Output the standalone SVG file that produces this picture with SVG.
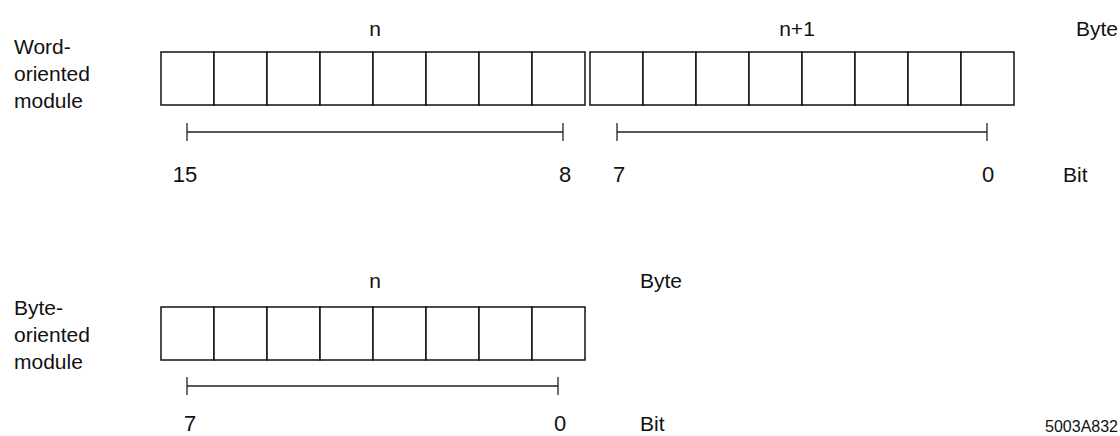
<svg xmlns="http://www.w3.org/2000/svg" width="1120" height="436" viewBox="0 0 1120 436">
<style>
text{font-family:"Liberation Sans",Arial,sans-serif;font-size:21px;fill:#111}
.c{text-anchor:middle}
.e{text-anchor:end}
.d{font-size:22px}
.cell{fill:#fff;stroke:#111;stroke-width:1.5}
.ln{stroke:#222;stroke-width:1.3;fill:none}
</style>
<defs>
<g id="byte8">
<rect class="cell" x="0" y="0" width="53" height="53"/>
<rect class="cell" x="53" y="0" width="53" height="53"/>
<rect class="cell" x="106" y="0" width="53" height="53"/>
<rect class="cell" x="159" y="0" width="53" height="53"/>
<rect class="cell" x="212" y="0" width="53" height="53"/>
<rect class="cell" x="265" y="0" width="53" height="53"/>
<rect class="cell" x="318" y="0" width="53" height="53"/>
<rect class="cell" x="371" y="0" width="53" height="53"/>
</g>
</defs>
<rect width="1120" height="436" fill="#fff"/>
<g id="word-label">
<text x="14" y="54">Word-</text>
<text x="14" y="81">oriented</text>
<text x="14" y="108">module</text>
</g>
<g id="word-byte-n">
<use href="#byte8" x="161" y="52"/>
<text class="c" x="375" y="36">n</text>
</g>
<g id="word-byte-n1">
<use href="#byte8" x="590" y="52"/>
<text class="c" x="797" y="36">n+1</text>
</g>
<text class="e" x="1118" y="36">Byte</text>
<g id="word-bits">
<text class="c d" x="185" y="182">15</text>
<text class="c d" x="565" y="182">8</text>
<text class="c d" x="619" y="182">7</text>
<text class="c d" x="988" y="182">0</text>
<text x="1063" y="182">Bit</text>
</g>
<g id="byte-label">
<text x="14" y="315">Byte-</text>
<text x="14" y="342">oriented</text>
<text x="14" y="369">module</text>
</g>
<g id="byte-byte-n">
<use href="#byte8" x="161" y="307"/>
<text class="c" x="375" y="288">n</text>
<text x="640" y="288">Byte</text>
</g>
<g id="byte-bits">
<text class="c d" x="190" y="431">7</text>
<text class="c d" x="560" y="431">0</text>
<text x="640" y="431">Bit</text>
</g>
<g id="connectors">
<path class="ln" d="M187 132H563M187 123V141M563 123V141"/>
<path class="ln" d="M617 132H987M617 123V141M987 123V141"/>
<path class="ln" d="M187 386H558M187 377V395M558 377V395"/>
</g>
<text class="e" x="1118" y="432" style="font-size:16px">5003A832</text>
</svg>
